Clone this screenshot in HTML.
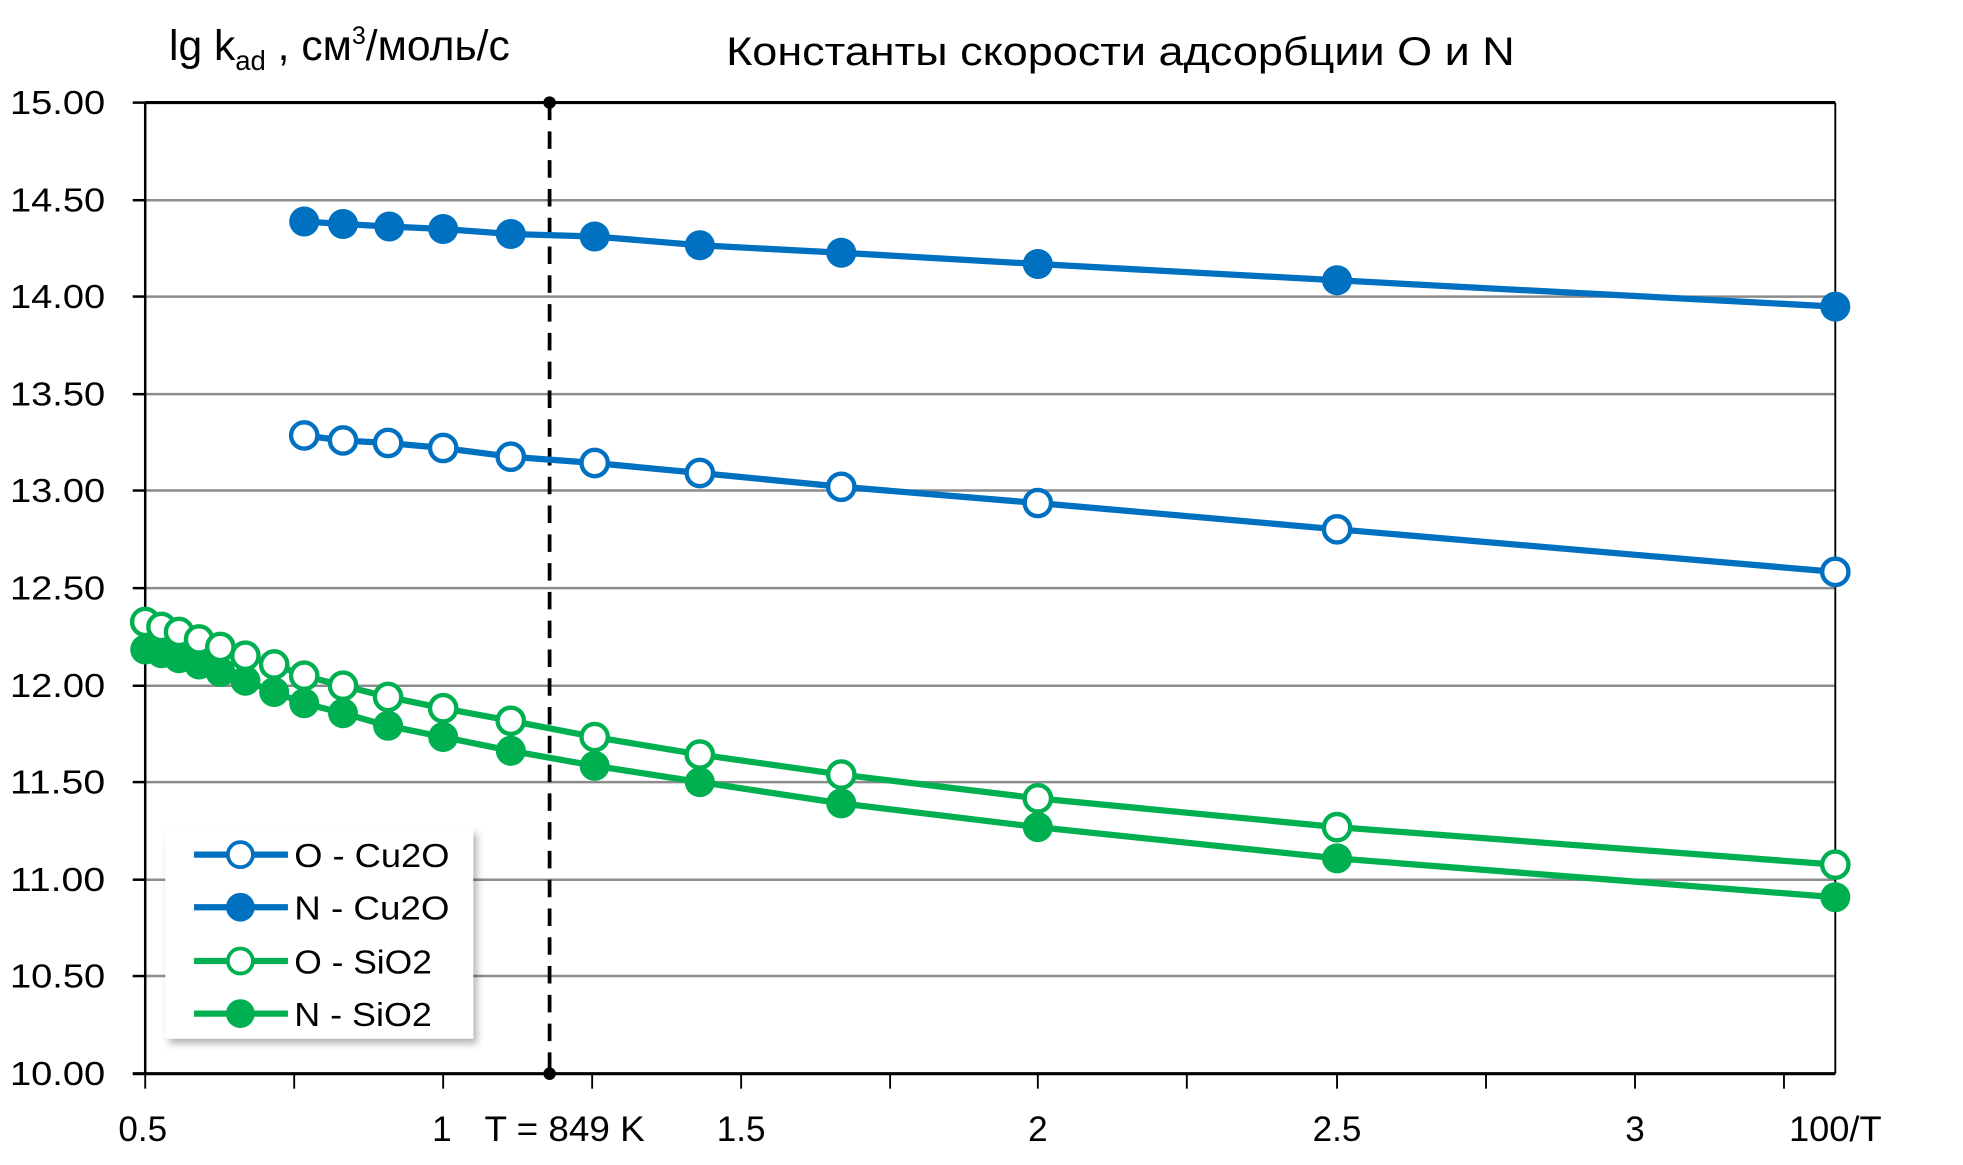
<!DOCTYPE html>
<html><head><meta charset="utf-8"><style>
html,body{margin:0;padding:0;background:#fff;}
svg{display:block;}
text{font-family:"Liberation Sans",sans-serif;fill:#000;}
</style></head><body>
<svg width="1963" height="1165" viewBox="0 0 1568 931" preserveAspectRatio="none" xmlns="http://www.w3.org/2000/svg">
<defs><filter id="sh" x="-10%" y="-10%" width="130%" height="130%"><feDropShadow dx="3" dy="4" stdDeviation="3" flood-color="#000" flood-opacity="0.3"/></filter></defs>
<g stroke="#8c8c8c" stroke-width="2">
<line x1="116" y1="160" x2="1466" y2="160"/>
<line x1="116" y1="237" x2="1466" y2="237"/>
<line x1="116" y1="315" x2="1466" y2="315"/>
<line x1="116" y1="392" x2="1466" y2="392"/>
<line x1="116" y1="470" x2="1466" y2="470"/>
<line x1="116" y1="548" x2="1466" y2="548"/>
<line x1="116" y1="625" x2="1466" y2="625"/>
<line x1="116" y1="703" x2="1466" y2="703"/>
<line x1="116" y1="780" x2="1466" y2="780"/>
</g>
<g stroke="#000" stroke-width="2">
<line x1="116" y1="82" x2="1466" y2="82" stroke-width="2.5"/>
<line x1="1466" y1="82" x2="1466" y2="858" stroke-width="1.5"/>
<line x1="116" y1="82" x2="116" y2="858"/>
<line x1="106" y1="858" x2="1466" y2="858" stroke-width="2.5"/>
<line x1="106" y1="82" x2="116" y2="82"/><line x1="106" y1="160" x2="116" y2="160"/><line x1="106" y1="237" x2="116" y2="237"/><line x1="106" y1="315" x2="116" y2="315"/><line x1="106" y1="392" x2="116" y2="392"/><line x1="106" y1="470" x2="116" y2="470"/><line x1="106" y1="548" x2="116" y2="548"/><line x1="106" y1="625" x2="116" y2="625"/><line x1="106" y1="703" x2="116" y2="703"/><line x1="106" y1="780" x2="116" y2="780"/>
</g>
<g stroke="#000" stroke-width="1.5">
<line x1="116" y1="858" x2="116" y2="870"/><line x1="235" y1="858" x2="235" y2="870"/><line x1="354" y1="858" x2="354" y2="870"/><line x1="473" y1="858" x2="473" y2="870"/><line x1="592" y1="858" x2="592" y2="870"/><line x1="711" y1="858" x2="711" y2="870"/><line x1="829" y1="858" x2="829" y2="870"/><line x1="948" y1="858" x2="948" y2="870"/><line x1="1068" y1="858" x2="1068" y2="870"/><line x1="1187" y1="858" x2="1187" y2="870"/><line x1="1306" y1="858" x2="1306" y2="870"/><line x1="1425" y1="858" x2="1425" y2="870"/>
</g>
<g font-size="27" text-anchor="end">
<text x="84" y="91" textLength="76" lengthAdjust="spacingAndGlyphs">15.00</text>
<text x="84" y="169" textLength="76" lengthAdjust="spacingAndGlyphs">14.50</text>
<text x="84" y="246" textLength="76" lengthAdjust="spacingAndGlyphs">14.00</text>
<text x="84" y="324" textLength="76" lengthAdjust="spacingAndGlyphs">13.50</text>
<text x="84" y="401" textLength="76" lengthAdjust="spacingAndGlyphs">13.00</text>
<text x="84" y="479" textLength="76" lengthAdjust="spacingAndGlyphs">12.50</text>
<text x="84" y="557" textLength="76" lengthAdjust="spacingAndGlyphs">12.00</text>
<text x="84" y="634" textLength="76" lengthAdjust="spacingAndGlyphs">11.50</text>
<text x="84" y="712" textLength="76" lengthAdjust="spacingAndGlyphs">11.00</text>
<text x="84" y="789" textLength="76" lengthAdjust="spacingAndGlyphs">10.50</text>
<text x="84" y="867" textLength="76" lengthAdjust="spacingAndGlyphs">10.00</text>
</g>
<g font-size="28" text-anchor="middle">
<text x="114" y="912">0.5</text>
<text x="353" y="912">1</text>
<text x="592" y="912">1.5</text>
<text x="829" y="912">2</text>
<text x="1068" y="912">2.5</text>
<text x="1306" y="912">3</text>
<text x="1466" y="912" textLength="74" lengthAdjust="spacingAndGlyphs">100/T</text>
<text x="451" y="912" textLength="128" lengthAdjust="spacingAndGlyphs">T = 849 K</text>
</g>
<text x="135" y="48" font-size="34">lg k<tspan font-size="22" dy="8">ad</tspan><tspan dy="-8"> , см</tspan><tspan font-size="20" dy="-13">3</tspan><tspan dy="13">/моль/с</tspan></text>
<text x="580" y="52" font-size="32" textLength="630" lengthAdjust="spacingAndGlyphs">Константы скорости адсорбции O и N</text>
<line x1="439" y1="82" x2="439" y2="858" stroke="#000" stroke-width="3" stroke-dasharray="14,9"/>
<circle cx="439" cy="82" r="5"/><circle cx="439" cy="858" r="5"/>
<g fill="none" stroke-width="5">
<polyline stroke="#0070c0" points="243,177 274,179 311,181 354,183 408,187 475,189 559,196 672,202 829,211 1068,224 1466,245"/>
<polyline stroke="#0070c0" points="243,348 274,352 310,354 354,358 408,365 475,370 559,378 672,389 829,402 1068,423 1466,457"/>
<polyline stroke="#00b050" points="116,497 129,501 143,505 159,511 176,517 196,524 219,531 243,540 274,548 310,557 354,566 408,576 475,589 559,603 672,619 829,638 1068,661 1466,691"/>
<polyline stroke="#00b050" points="116,519 129,522 143,526 159,531 176,537 196,544 219,553 243,562 274,570 310,580 354,589 408,600 475,612 559,625 672,642 829,661 1068,686 1466,717"/>
</g>
<g fill="#0070c0">
<circle cx="243" cy="177" r="12"/><circle cx="274" cy="179" r="12"/><circle cx="311" cy="181" r="12"/><circle cx="354" cy="183" r="12"/><circle cx="408" cy="187" r="12"/><circle cx="475" cy="189" r="12"/><circle cx="559" cy="196" r="12"/><circle cx="672" cy="202" r="12"/><circle cx="829" cy="211" r="12"/><circle cx="1068" cy="224" r="12"/><circle cx="1466" cy="245" r="12"/>
</g>
<g fill="#fff" stroke="#0070c0" stroke-width="3.5">
<circle cx="243" cy="348" r="10.5"/><circle cx="274" cy="352" r="10.5"/><circle cx="310" cy="354" r="10.5"/><circle cx="354" cy="358" r="10.5"/><circle cx="408" cy="365" r="10.5"/><circle cx="475" cy="370" r="10.5"/><circle cx="559" cy="378" r="10.5"/><circle cx="672" cy="389" r="10.5"/><circle cx="829" cy="402" r="10.5"/><circle cx="1068" cy="423" r="10.5"/><circle cx="1466" cy="457" r="10.5"/>
</g>
<g fill="#00b050">
<circle cx="116" cy="519" r="12"/><circle cx="129" cy="522" r="12"/><circle cx="143" cy="526" r="12"/><circle cx="159" cy="531" r="12"/><circle cx="176" cy="537" r="12"/><circle cx="196" cy="544" r="12"/><circle cx="219" cy="553" r="12"/><circle cx="243" cy="562" r="12"/><circle cx="274" cy="570" r="12"/><circle cx="310" cy="580" r="12"/><circle cx="354" cy="589" r="12"/><circle cx="408" cy="600" r="12"/><circle cx="475" cy="612" r="12"/><circle cx="559" cy="625" r="12"/><circle cx="672" cy="642" r="12"/><circle cx="829" cy="661" r="12"/><circle cx="1068" cy="686" r="12"/><circle cx="1466" cy="717" r="12"/>
</g>
<g fill="#fff" stroke="#00b050" stroke-width="3.5">
<circle cx="116" cy="497" r="10.5"/><circle cx="129" cy="501" r="10.5"/><circle cx="143" cy="505" r="10.5"/><circle cx="159" cy="511" r="10.5"/><circle cx="176" cy="517" r="10.5"/><circle cx="196" cy="524" r="10.5"/><circle cx="219" cy="531" r="10.5"/><circle cx="243" cy="540" r="10.5"/><circle cx="274" cy="548" r="10.5"/><circle cx="310" cy="557" r="10.5"/><circle cx="354" cy="566" r="10.5"/><circle cx="408" cy="576" r="10.5"/><circle cx="475" cy="589" r="10.5"/><circle cx="559" cy="603" r="10.5"/><circle cx="672" cy="619" r="10.5"/><circle cx="829" cy="638" r="10.5"/><circle cx="1068" cy="661" r="10.5"/><circle cx="1466" cy="691" r="10.5"/>
</g>
<rect x="132" y="662" width="246" height="168" fill="#fff" filter="url(#sh)"/>
<g stroke-width="5">
<line x1="155" y1="683" x2="230" y2="683" stroke="#0070c0"/>
<line x1="155" y1="725" x2="230" y2="725" stroke="#0070c0"/>
<line x1="155" y1="768" x2="230" y2="768" stroke="#00b050"/>
<line x1="155" y1="810" x2="230" y2="810" stroke="#00b050"/>
</g>
<circle cx="192" cy="683" r="10" fill="#fff" stroke="#0070c0" stroke-width="3"/>
<circle cx="192" cy="725" r="11.5" fill="#0070c0"/>
<circle cx="192" cy="768" r="10" fill="#fff" stroke="#00b050" stroke-width="3"/>
<circle cx="192" cy="810" r="11.5" fill="#00b050"/>
<g font-size="27">
<text x="235" y="693" textLength="124" lengthAdjust="spacingAndGlyphs">O - Cu2O</text>
<text x="235" y="735" textLength="124" lengthAdjust="spacingAndGlyphs">N - Cu2O</text>
<text x="235" y="778" textLength="110" lengthAdjust="spacingAndGlyphs">O - SiO2</text>
<text x="235" y="820" textLength="110" lengthAdjust="spacingAndGlyphs">N - SiO2</text>
</g>
</svg>
</body></html>
